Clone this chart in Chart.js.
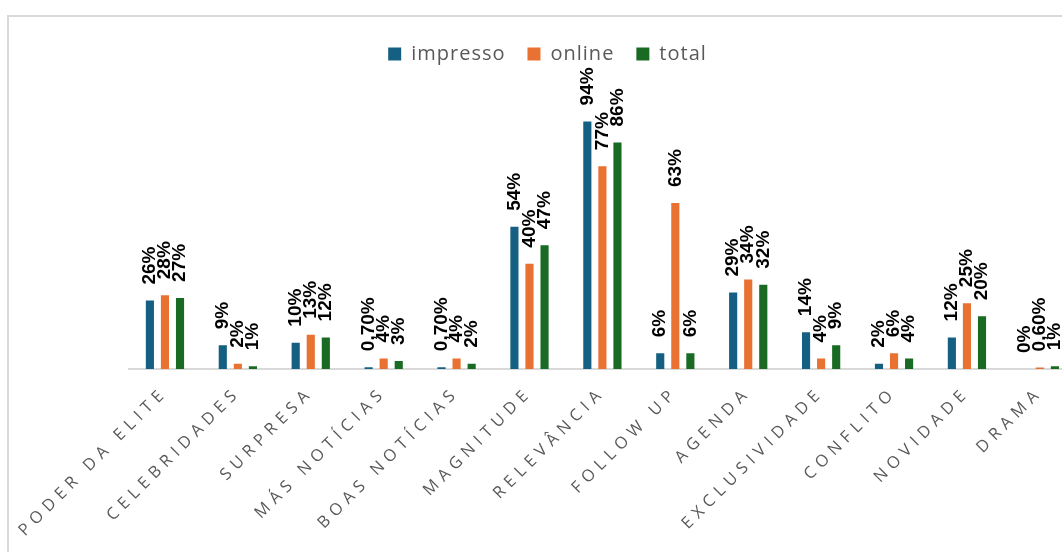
<!DOCTYPE html>
<html lang="pt">
<head>
<meta charset="utf-8">
<title>Valores-notícia</title>
<script src="https://cdn.jsdelivr.net/npm/chart.js@4.4.1/dist/chart.umd.min.js"></script>
<style>
    html, body { margin: 0; padding: 0; background: #fff; overflow: hidden; }
    body { width: 1062px; height: 552px; position: relative; }
    .frame {
        position: absolute; left: 7px; top: 15px; width: 1200px; height: 800px;
        border-left: 2px solid #d9d9d9; border-top: 2px solid #d9d9d9;
    }
    #chart { position: absolute; left: 0; top: 0; }
</style>
</head>
<body>
<div class="frame"></div>
<canvas id="chart" width="1090" height="552"></canvas>
<script>
// categorias e percentuais por tipo de veículo
const categories = ['PODER DA ELITE', 'CELEBRIDADES', 'SURPRESA', 'MÁS NOTÍCIAS', 'BOAS NOTÍCIAS',
    'MAGNITUDE', 'RELEVÂNCIA', 'FOLLOW UP', 'AGENDA', 'EXCLUSIVIDADE', 'CONFLITO', 'NOVIDADE', 'DRAMA'];
const impresso = [26, 9, 10, 0.7, 0.7, 54, 94, 6, 29, 14, 2, 12, 0];
const online = [28, 2, 13, 4, 4, 40, 77, 63, 34, 4, 6, 25, 0.6];
const total = [27, 1, 12, 3, 2, 47, 86, 6, 32, 9, 4, 20, 1];

const colors = ['#156082', '#E97132', '#196B24'];

function formatPct(v) {
    if (Number.isInteger(v)) return v + '%';
    return v.toFixed(2).replace('.', ',') + '%';
}

// rótulos de valor verticais acima de cada barra
const valueLabels = {
    id: 'valueLabels',
    afterDatasetsDraw(chart) {
        const ctx = chart.ctx;
        ctx.save();
        ctx.letterSpacing = '0px';
        ctx.font = 'bold 19px "Liberation Sans", Arial, sans-serif';
        ctx.fillStyle = '#000';
        ctx.textAlign = 'left';
        ctx.textBaseline = 'middle';
        chart.data.datasets.forEach((ds, i) => {
            chart.getDatasetMeta(i).data.forEach((bar, j) => {
                ctx.save();
                ctx.translate(bar.x, bar.y - 16);
                ctx.rotate(-Math.PI / 2);
                ctx.fillText(formatPct(ds.data[j]), 0, 0);
                ctx.restore();
            });
        });
        ctx.restore();
        // espaçamento largo nos nomes das categorias (desenhados depois, z = 1)
        ctx.letterSpacing = '5.5px';
    },
    beforeLayout(chart) { chart.ctx.letterSpacing = '1px'; },
    afterLayout(chart) { chart.ctx.letterSpacing = '0px'; },
    beforeDraw(chart) { chart.ctx.letterSpacing = '1px'; },
    beforeDatasetsDraw(chart) { chart.ctx.letterSpacing = '0px'; },
    afterDraw(chart) { chart.ctx.letterSpacing = '0px'; }
};

const ctx = document.getElementById('chart').getContext('2d');
new Chart(ctx, {
    type: 'bar',
    data: {
        labels: categories,
        datasets: [
            { label: 'impresso', data: impresso, backgroundColor: colors[0] },
            { label: 'online', data: online, backgroundColor: colors[1] },
            { label: 'total', data: total, backgroundColor: colors[2] }
        ]
    },
    options: {
        responsive: false,
        animation: false,
        devicePixelRatio: 1,
        categoryPercentage: 0.62,
        barPercentage: 0.54,
        layout: { padding: { left: 18.7, right: 13.7, top: 22, bottom: 0 } },
        plugins: {
            legend: {
                position: 'top',
                labels: {
                    boxWidth: 13,
                    boxHeight: 13,
                    padding: 22,
                    color: '#595959',
                    font: { family: '"Open Sans", sans-serif', size: 20 }
                }
            },
            tooltip: { enabled: false }
        },
        scales: {
            x: {
                grid: { display: false, drawTicks: false },
                border: { display: true, color: '#d9d9d9', width: 2 },
                ticks: {
                    z: 1,
                    autoSkip: false,
                    minRotation: 45,
                    maxRotation: 45,
                    padding: 14,
                    color: '#595959',
                    font: { family: '"Open Sans", sans-serif', size: 16.5 }
                },
                afterFit(scale) { scale.height = 183; }
            },
            y: {
                display: true,
                min: 0,
                max: 112,
                grid: { display: false, drawTicks: false },
                border: { display: false },
                ticks: { display: false },
                afterFit(scale) { scale.width = 109.8; }
            }
        }
    },
    plugins: [valueLabels]
});
</script>
</body>
</html>
